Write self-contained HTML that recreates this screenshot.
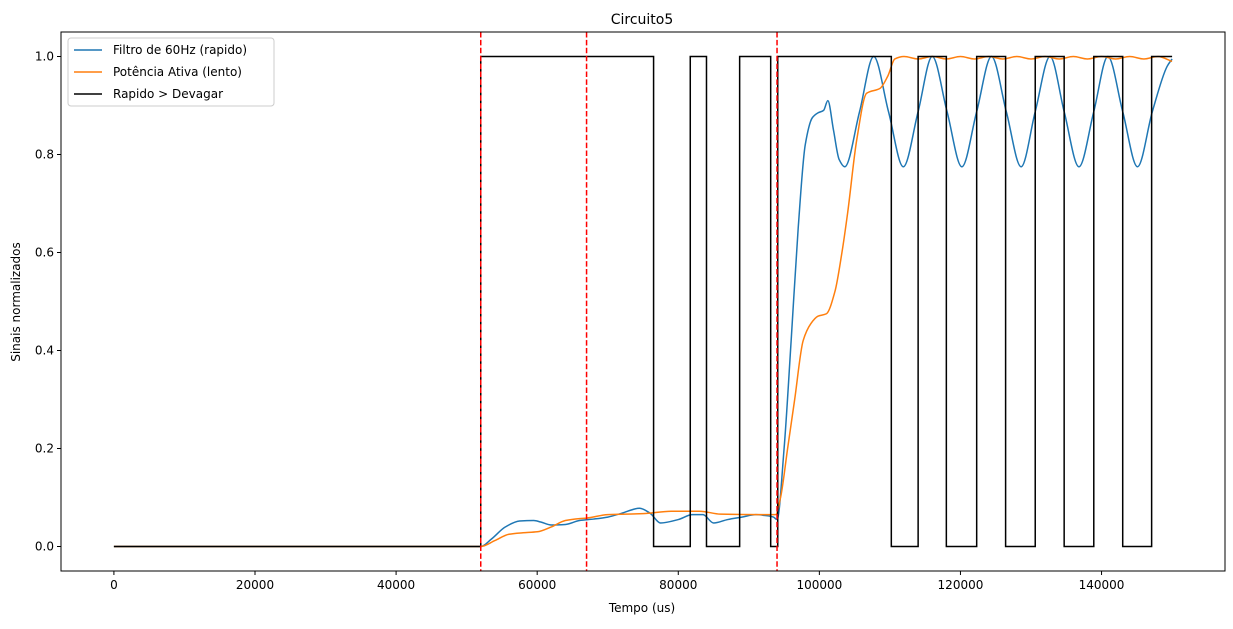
<!DOCTYPE html>
<html><head><meta charset="utf-8"><style>
body{margin:0;background:#fff;font-family:"Liberation Sans","DejaVu Sans",sans-serif;}
svg text{font-family:"DejaVu Sans","Liberation Sans",sans-serif;}
</style></head><body>
<svg id="chart" width="1233" height="624" xmlns="http://www.w3.org/2000/svg">
<rect x="0" y="0" width="1233" height="624" fill="#fff"/>
<text x="642" y="24" font-size="14" text-anchor="middle">Circuito5</text>
<text x="642" y="612" font-size="12" text-anchor="middle">Tempo (us)</text>
<text x="0" y="0" font-size="12" text-anchor="middle" transform="translate(20,302) rotate(-90)">Sinais normalizados</text>
<g id="plot"></g>
</svg>
<script>
const xTicks=[0,20000,40000,60000,80000,100000,120000,140000];
const yTicks=[0.0,0.2,0.4,0.6,0.8,1.0];
const vLines=[52000,67000,94000];
const stepEdges=[[0,0],[52000,1],[76500,0],[81700,1],[84000,0],[88700,1],[93100,0],[94100,1],[110200,0],[114000,1],[118000,0],[122300,1],[126400,0],[130600,1],[134700,0],[138900,1],[143000,0],[147100,1],[150000,1]];
const blueT=[0,52000,53500,55500,57500,59500,60500,62000,64000,66000,68000,70000,72000,74500,76000,77500,80000,82000,83500,85000,87000,89000,91000,92500,93500,94000,95000,96000,97000,98000,99000,99800,100600,101200,102000,102800,103600,105700,107700,109800,111900,114000,116000,118100,120200,122300,124400,126500,128600,130600,132700,134700,136800,138900,140900,143000,145100,147200,149300,150000];
const blueV=[0,0,0.015,0.04,0.052,0.053,0.05,0.044,0.045,0.053,0.056,0.06,0.068,0.078,0.068,0.048,0.055,0.065,0.065,0.048,0.055,0.06,0.065,0.063,0.06,0.055,0.2,0.42,0.65,0.82,0.875,0.885,0.89,0.91,0.85,0.79,0.775,0.8875,1.0,0.8875,0.775,0.8875,1.0,0.8875,0.775,0.8875,1.0,0.8875,0.775,0.8875,1.0,0.8875,0.775,0.8875,1.0,0.8875,0.775,0.8875,0.98,0.995];
const orangeT=[0,52000,54000,56000,58000,60000,62000,64000,66000,67000,70000,75000,79000,83000,86000,92000,93800,94500,95500,96500,97700,98800,99800,101000,102200,103200,104000,105300,106700,108600,109700,110700,112000,114000,116000,118000,120000,122000,124000,126000,128000,130000,132000,134000,136000,138000,140000,142000,144000,146000,148000,150000];
const orangeV=[0,0,0.012,0.025,0.028,0.03,0.04,0.053,0.057,0.058,0.065,0.067,0.072,0.072,0.066,0.065,0.065,0.1,0.2,0.3,0.42,0.455,0.47,0.475,0.52,0.6,0.68,0.83,0.925,0.935,0.96,0.995,1.0,0.995,1.0,0.995,1.0,0.995,1.0,0.995,1.0,0.995,1.0,0.995,1.0,0.995,1.0,0.995,1.0,0.995,1.0,0.99];
const X0=61,X1=1225,Y0=32,Y1=571,xmin=-7500,xmax=157500,ymin=-0.05,ymax=1.05;
function sx(v){return X0+(v-xmin)/(xmax-xmin)*(X1-X0);}
function sy(v){return Y1-(v-ymin)/(ymax-ymin)*(Y1-Y0);}
const NS="http://www.w3.org/2000/svg";
const plot=document.getElementById('plot');
function mk(tag,attrs,parent){const e=document.createElementNS(NS,tag);for(const k in attrs)e.setAttribute(k,attrs[k]);(parent||plot).appendChild(e);return e;}
function smooth(ts,vs){
const x=ts.map(sx),y=vs.map(sy),n=x.length;const dl=[],m=new Array(n);
for(let i=0;i<n-1;i++)dl.push((y[i+1]-y[i])/(x[i+1]-x[i]));
m[0]=dl[0];m[n-1]=dl[n-2];
for(let i=1;i<n-1;i++){if(dl[i-1]*dl[i]<=0)m[i]=0;else{const w1=2*(x[i+1]-x[i])+(x[i]-x[i-1]),w2=(x[i+1]-x[i])+2*(x[i]-x[i-1]);m[i]=(w1+w2)/(w1/dl[i-1]+w2/dl[i]);}}
let d="M"+x[0]+","+y[0];
for(let i=0;i<n-1;i++){const h=(x[i+1]-x[i])/3;d+=" C"+(x[i]+h)+","+(y[i]+m[i]*h)+" "+(x[i+1]-h)+","+(y[i+1]-m[i+1]*h)+" "+x[i+1]+","+y[i+1];}
return d;}
xTicks.forEach(t=>{
const l=mk('line',{x1:sx(t),x2:sx(t),y1:Y1,y2:Y1+4,stroke:'#000'});

const tx=mk('text',{x:sx(t),y:Y1+18,'font-size':12,'text-anchor':'middle'});tx.textContent=t;
});
yTicks.forEach(t=>{
const l=mk('line',{x1:X0-4,x2:X0,y1:sy(t),y2:sy(t),stroke:'#000'});

const tx=mk('text',{x:X0-7,y:sy(t)+4,'font-size':12,'text-anchor':'end'});tx.textContent=t.toFixed(1);
});
const b=mk('path',{d:smooth(blueT,blueV),fill:'none',stroke:'#1f77b4','stroke-width':1.5});

const o=mk('path',{d:smooth(orangeT,orangeV),fill:'none',stroke:'#ff7f0e','stroke-width':1.5});

let d="";stepEdges.forEach((s,i)=>{if(i===0)d+="M"+sx(s[0])+","+sy(s[1]);else{d+=" L"+sx(s[0])+","+sy(stepEdges[i-1][1])+" L"+sx(s[0])+","+sy(s[1]);}});
const st=mk('path',{d:d,fill:'none',stroke:'#000','stroke-width':1.5});

vLines.forEach(v=>{const l=mk('line',{x1:sx(v),x2:sx(v),y1:Y0,y2:Y1,stroke:'#ff0000','stroke-width':1.5,'stroke-dasharray':'5.5,2.4'});
});
const fr=mk('rect',{x:X0,y:Y0,width:X1-X0,height:Y1-Y0,fill:'none',stroke:'#000','stroke-width':1});

const lg=mk('g',{});

mk('rect',{x:68,y:38,width:206,height:68,rx:3,fill:'#fff','fill-opacity':0.8,stroke:'#ccc'},lg);
const names=["Filtro de 60Hz (rapido)","Potência Ativa (lento)","Rapido > Devagar"],cols=['#1f77b4','#ff7f0e','#000'];
names.forEach((n,i)=>{const y=50+i*22;
const e=mk('g',{},lg);
mk('line',{x1:74,x2:102,y1:y,y2:y,stroke:cols[i],'stroke-width':1.5},e);
const t=mk('text',{x:113,y:y+4,'font-size':12},e);t.textContent=n;});
</script>
</body></html>
